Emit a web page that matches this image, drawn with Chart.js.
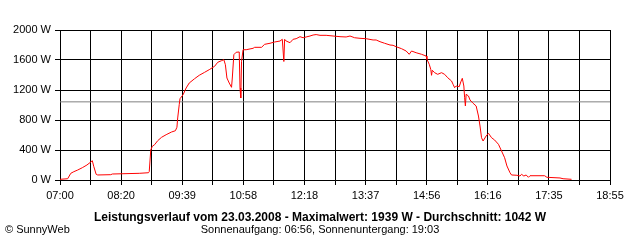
<!DOCTYPE html>
<html>
<head>
<meta charset="utf-8">
<title>Leistungsverlauf 23.03.2008</title>
<script src="https://cdn.jsdelivr.net/npm/chart.js@4/dist/chart.umd.min.js"></script>
<style>
  html, body { margin: 0; padding: 0; background: #fff; }
  #wrap { width: 640px; height: 240px; }
</style>
</head>
<body>
<div id="wrap"><canvas id="chart" width="640" height="240"></canvas></div>
<script>
// Leistungsverlauf (SunnyWeb)

const times = ['07:00','07:10','07:14','07:18','07:23','07:29','07:35','07:40','07:42','07:44','07:47','07:49',
  '08:06','08:08','08:43','08:55','08:56','08:58','09:00','09:03','09:07','09:12','09:18','09:25','09:30','09:32',
  '09:33','09:35','09:36','09:40','09:44','09:48','09:55','10:01','10:08','10:14','10:21','10:25','10:30','10:33',
  '10:35','10:37','10:40','10:43','10:44','10:46','10:49','10:53','10:54','10:55','10:56','10:58','11:02','11:11',
  '11:13','11:22','11:26','11:33','11:39','11:46','11:49','11:51','11:52','11:54','11:59','12:03','12:07','12:12',
  '12:16','12:20','12:25','12:29','12:33','12:38','12:46','12:55','13:04','13:12','13:17','13:23','13:30','13:38',
  '13:47','13:51','13:56','14:02','14:09','14:13','14:17','14:24','14:30','14:34','14:37','14:43','14:50','14:56',
  '14:57','15:00','15:02','15:03','15:04','15:07','15:11','15:16','15:20','15:24','15:29','15:31','15:33','15:35',
  '15:39','15:41','15:43','15:45','15:46','15:47','15:48','15:51','15:53','15:57','16:01','16:04','16:06','16:08',
  '16:10','16:14','16:17','16:21','16:25','16:30','16:34','16:38','16:41','16:45','16:47','16:54','16:58','17:00',
  '17:03','17:06','17:09','17:11','17:30','17:33','17:50','17:54','18:05'];

const watts = [9,17,89,111,133,164,200,240,257,177,76,67,
  71,80,89,97,111,400,449,471,524,569,604,640,657,703,
  827,1004,1084,1137,1227,1293,1351,1396,1436,1471,1516,1569,1591,1604,
  1537,1360,1293,1236,1360,1671,1703,1707,1227,1093,1583,1737,1737,1756,
  1769,1769,1809,1823,1840,1853,1876,1580,1876,1853,1831,1876,1884,1911,
  1897,1907,1920,1933,1939,1929,1929,1920,1911,1907,1920,1897,1889,1884,
  1867,1867,1844,1823,1800,1796,1777,1751,1720,1676,1720,1697,1676,1653,
  1609,1543,1476,1396,1463,1431,1409,1431,1409,1364,1320,1276,1231,1253,
  1244,1307,1356,1253,1097,987,1143,1120,1067,1023,987,853,720,564,
  520,587,623,564,533,476,387,297,187,97,67,63,53,76,
  53,67,36,57,57,36,27,17,9];

const avgWatts = 1042;
const xTickLabels = ['07:00','08:20','09:39','10:58','12:18','13:37','14:56','16:16','17:35','18:55'];
const yTicks = [0, 400, 800, 1200, 1600, 2000];

const titleText = 'Leistungsverlauf vom 23.03.2008 - Maximalwert: 1939 W - Durchschnitt: 1042 W';
const subText = 'Sonnenaufgang: 06:56, Sonnenuntergang: 19:03';
const copyText = '\u00A9 SunnyWeb';

function toMin(t) {
  const [h, m] = t.split(':').map(Number);
  return h * 60 + m;
}

const xMin = toMin(xTickLabels[0]);
const xMax = toMin(xTickLabels[xTickLabels.length - 1]);
const gridSteps = (xTickLabels.length - 1) * 2; // a grid line between each label

const FONT = '"Liberation Sans", Arial, sans-serif';

// draws the caption lines under the plot
const captionPlugin = {
  id: 'caption',
  afterDraw(chart) {
    const ctx = chart.ctx;
    ctx.save();
    ctx.fillStyle = '#000';
    ctx.textBaseline = 'alphabetic';
    ctx.textAlign = 'center';
    ctx.font = 'bold 12px ' + FONT;
    ctx.fillText(titleText, 320, 221);
    ctx.font = '11px ' + FONT;
    ctx.fillText(subText, 320, 233);
    ctx.textAlign = 'left';
    ctx.fillText(copyText, 5, 233);
    ctx.restore();
  }
};

new Chart(document.getElementById('chart'), {
  type: 'line',
  data: {
    datasets: [
      {
        label: 'Leistung',
        data: times.map((t, i) => ({ x: toMin(t), y: watts[i] })),
        borderColor: '#ff0000',
        borderWidth: 1,
        pointRadius: 0,
        tension: 0,
        order: 0
      },
      {
        label: 'Durchschnitt',
        data: [{ x: xMin, y: avgWatts }, { x: xMax, y: avgWatts }],
        borderColor: '#808080',
        borderWidth: 1,
        pointRadius: 0,
        order: 1
      }
    ]
  },
  options: {
    responsive: false,
    animation: false,
    events: [],
    layout: { padding: { top: 30, right: 30, bottom: 35, left: 0 } },
    plugins: {
      legend: { display: false },
      tooltip: { enabled: false }
    },
    scales: {
      x: {
        type: 'linear',
        min: xMin,
        max: xMax,
        afterBuildTicks: (scale) => {
          scale.ticks = Array.from({ length: gridSteps + 1 }, (_, i) => ({ value: xMin + i * (xMax - xMin) / gridSteps }));
        },
        afterFit: (scale) => { scale.height = 25; },
        grid: { color: '#000', lineWidth: 1, tickLength: 5, drawTicks: true },
        border: { color: '#000', width: 1 },
        ticks: {
          autoSkip: false,
          maxRotation: 0,
          padding: 4,
          color: '#000',
          font: { family: FONT, size: 11 },
          callback: (v, i) => (i % 2 === 0 ? xTickLabels[i / 2] : '')
        }
      },
      y: {
        min: yTicks[0],
        max: yTicks[yTicks.length - 1],
        afterBuildTicks: (scale) => { scale.ticks = yTicks.map(v => ({ value: v })); },
        afterFit: (scale) => { scale.width = 60; },
        grid: { color: '#000', lineWidth: 1, tickLength: 5 },
        border: { color: '#000', width: 1 },
        ticks: {
          padding: 4,
          color: '#000',
          font: { family: FONT, size: 11 },
          callback: v => v + ' W'
        }
      }
    }
  },
  plugins: [captionPlugin]
});
</script>
</body>
</html>
